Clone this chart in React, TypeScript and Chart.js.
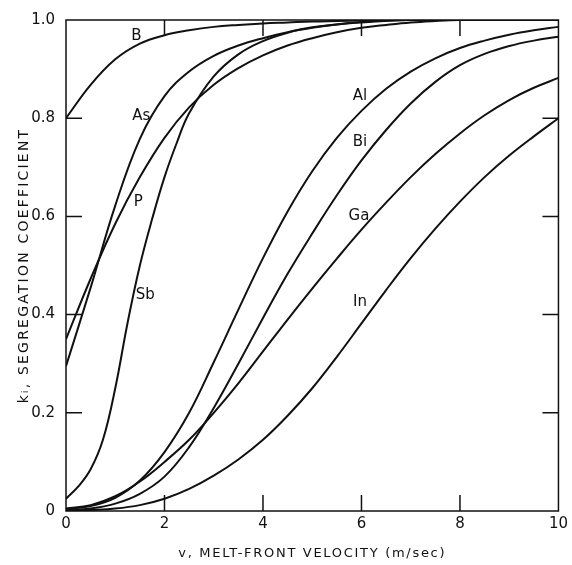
import React, { useEffect, useRef } from "react";
import { Chart, registerables } from "chart.js";

Chart.register(...registerables);

// Melt-front velocity grid (m/sec)
const velocity = [0, 0.5, 1, 1.5, 2, 2.5, 3, 3.5, 4, 4.5, 5, 5.5, 6, 6.5, 7, 7.5, 8, 8.5, 9, 9.5, 10];
// Finer grid for the steep Sb curve
const velocitySb = [0, 0.25, 0.5, 0.75, 1, 1.25, 1.5, 1.75, 2, 2.25, 2.5, 3, 3.5, 4, 4.5, 5, 6, 7, 10];

// Segregation coefficients k_i
const kB = [0.80, 0.868, 0.92, 0.952, 0.969, 0.979, 0.986, 0.99, 0.993, 0.995, 0.997, 0.998, 0.999, 1.0, 1.0, 1.0, 1.0, 1.0, 1.0, 1.0, 1.0];
const kAs = [0.295, 0.455, 0.622, 0.758, 0.845, 0.895, 0.927, 0.948, 0.963, 0.975, 0.984, 0.991, 0.996, 0.999, 1.0, 1.0, 1.0, 1.0, 1.0, 1.0, 1.0];
const kP = [0.35, 0.473, 0.585, 0.68, 0.76, 0.822, 0.868, 0.902, 0.928, 0.948, 0.963, 0.975, 0.984, 0.99, 0.995, 0.998, 1.0, 1.0, 1.0, 1.0, 1.0];
const kSb = [0.025, 0.05, 0.085, 0.145, 0.25, 0.383, 0.5, 0.595, 0.68, 0.75, 0.81, 0.885, 0.93, 0.957, 0.974, 0.985, 0.995, 1.0, 1.0];
const kAl = [0.004, 0.01, 0.027, 0.062, 0.12, 0.2, 0.303, 0.41, 0.515, 0.61, 0.692, 0.76, 0.815, 0.86, 0.895, 0.922, 0.943, 0.958, 0.97, 0.979, 0.986];
const kBi = [0.002, 0.005, 0.015, 0.035, 0.07, 0.13, 0.21, 0.3, 0.393, 0.483, 0.565, 0.643, 0.714, 0.776, 0.83, 0.874, 0.908, 0.931, 0.947, 0.958, 0.966];
const kGa = [0.005, 0.012, 0.03, 0.06, 0.1, 0.145, 0.2, 0.26, 0.325, 0.39, 0.453, 0.514, 0.573, 0.628, 0.68, 0.727, 0.769, 0.806, 0.837, 0.862, 0.882];
const kIn = [0, 0.002, 0.005, 0.012, 0.025, 0.045, 0.072, 0.105, 0.145, 0.194, 0.25, 0.314, 0.382, 0.45, 0.515, 0.575, 0.63, 0.68, 0.724, 0.763, 0.8];

const seriesNames = ["B", "As", "P", "Sb", "Al", "Bi", "Ga", "In"];
const seriesValues = [kB, kAs, kP, kSb, kAl, kBi, kGa, kIn];
const seriesVelocity = [velocity, velocity, velocity, velocitySb, velocity, velocity, velocity, velocity];

// Curve label anchors (data units: velocity, k)
const labelV = [1.43, 1.53, 1.47, 1.61, 5.97, 5.97, 5.95, 5.97];
const labelK = [0.968, 0.804, 0.63, 0.44, 0.846, 0.752, 0.6, 0.426];

const xTicks = [0, 2, 4, 6, 8, 10];
const xTickLabels = ["0", "2", "4", "6", "8", "10"];
const yTicks = [0, 0.2, 0.4, 0.6, 0.8, 1.0];
const yTickLabels = ["0", "0.2", "0.4", "0.6", "0.8", "1.0"];

const xTitle = "v, MELT-FRONT VELOCITY (m/sec)";
const yTitle = "kᵢ, SEGREGATION COEFFICIENT";

const FONT = '"DejaVu Sans", sans-serif';

const overlayPlugin = {
  id: "overlay",
  afterDatasetsDraw(chart: any) {
    const { ctx, chartArea, scales } = chart;
    const { left, right, top, bottom } = chartArea;
    const x = scales.x;
    const y = scales.y;
    ctx.save();
    ctx.strokeStyle = "#111";
    ctx.lineWidth = 1.5;
    ctx.strokeRect(left, top, right - left, bottom - top);
    const tl = 16;
    ctx.beginPath();
    xTicks.slice(1, -1).forEach((v) => {
      const px = x.getPixelForValue(v);
      ctx.moveTo(px, bottom);
      ctx.lineTo(px, bottom - tl);
      ctx.moveTo(px, top);
      ctx.lineTo(px, top + tl);
    });
    yTicks.slice(1, -1).forEach((v) => {
      const py = y.getPixelForValue(v);
      ctx.moveTo(left, py);
      ctx.lineTo(left + tl, py);
      ctx.moveTo(right, py);
      ctx.lineTo(right - tl, py);
    });
    ctx.stroke();
    ctx.fillStyle = "#111";
    ctx.font = `15px ${FONT}`;
    ctx.textAlign = "center";
    ctx.textBaseline = "middle";
    seriesNames.forEach((name, i) => {
      ctx.fillText(name, x.getPixelForValue(labelV[i]), y.getPixelForValue(labelK[i]));
    });

    // axis titles
    const cx = (left + right) / 2;
    const cy = (top + bottom) / 2;
    ctx.font = `13px ${FONT}`;
    (ctx as any).letterSpacing = "1.7px";
    ctx.fillText(xTitle, cx, 554);
    ctx.save();
    ctx.translate(24, cy);
    ctx.rotate(-Math.PI / 2);
    ctx.font = `14px ${FONT}`;
    (ctx as any).letterSpacing = "2.2px";
    ctx.fillText(yTitle, 0, 0);
    ctx.restore();
    ctx.restore();
  },
};

export default function App() {
  const canvasRef = useRef<HTMLCanvasElement | null>(null);

  useEffect(() => {
    const canvas = canvasRef.current;
    if (!canvas) return;
    const chart = new Chart(canvas, {
      type: "line",
      data: {
        datasets: seriesNames.map((name, i) => ({
          label: name,
          data: seriesVelocity[i].map((v, j) => ({ x: v, y: seriesValues[i][j] })),
          borderColor: "#111",
          borderWidth: 2,
          pointRadius: 0,
          fill: false,
          tension: 0.4,
        })),
      },
      options: {
        animation: false,
        responsive: false,
        layout: { padding: { top: 16, right: 10, left: 0, bottom: 0 } },
        plugins: { legend: { display: false }, tooltip: { enabled: false } },
        scales: {
          x: {
            type: "linear",
            min: 0,
            max: 10,
            afterFit: (s: any) => {
              s.height = 54;
            },
            afterBuildTicks: (s: any) => {
              s.ticks = xTicks.map((v) => ({ value: v }));
            },
            grid: { display: false, drawTicks: false },
            border: { display: false },
            ticks: {
              padding: 4,
              color: "#111",
              font: { family: FONT, size: 15 },
              maxRotation: 0,
              callback: (val: any) => {
                const idx = xTicks.indexOf(Number(val));
                return idx >= 0 ? xTickLabels[idx] : "";
              },
            },
          },
          y: {
            type: "linear",
            min: 0,
            max: 1,
            afterFit: (s: any) => {
              s.width = 66;
            },
            afterBuildTicks: (s: any) => {
              s.ticks = yTicks.map((v) => ({ value: v }));
            },
            grid: { display: false, drawTicks: false },
            border: { display: false },
            ticks: {
              padding: 11,
              color: "#111",
              font: { family: FONT, size: 15 },
              callback: (val: any) => {
                const idx = yTicks.findIndex((t) => Math.abs(t - Number(val)) < 1e-9);
                return idx >= 0 ? yTickLabels[idx] : "";
              },
            },
          },
        },
      },
      plugins: [overlayPlugin],
    });
    return () => chart.destroy();
  }, []);

  return (
    <div style={{ position: "fixed", left: 0, top: 0, width: 572, height: 565, background: "#fff" }}>
      <canvas ref={canvasRef} width={572} height={565} style={{ display: "block" }} />
    </div>
  );
}
